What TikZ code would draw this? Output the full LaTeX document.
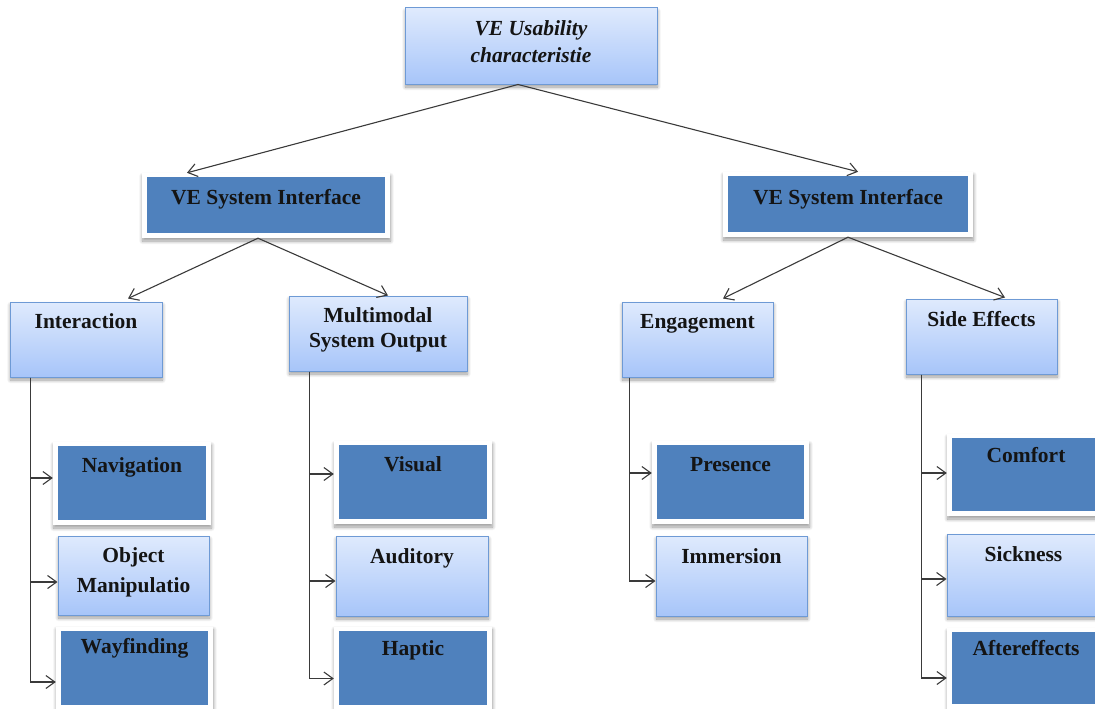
\documentclass[tikz,border=0pt]{standalone}
\usepackage{fontspec}
\setmainfont{Liberation Serif}
\usetikzlibrary{arrows.meta,shadows.blur}

\definecolor{boxblue}{HTML}{4F81BD}
\definecolor{paletop}{HTML}{DFEAFD}
\definecolor{palebot}{HTML}{A7C5F9}
\definecolor{paleedge}{HTML}{6E9AD5}
\definecolor{linkgray}{HTML}{3A3A3A}

\tikzset{
  boxshadow/.style={blur shadow={shadow xshift=0.5pt, shadow yshift=-3pt,
      shadow blur radius=3.5pt, shadow blur steps=10, shadow opacity=40}},
  % blue panel inside a white frame
  darkbox/.style={boxshadow, fill=white, draw=none, inner sep=0pt,
      minimum width=158pt, minimum height=83pt,
      path picture={\fill[boxblue]
        ([shift={(5pt,-4pt)}]path picture bounding box.north west) rectangle
        ([shift={(-5pt,5pt)}]path picture bounding box.south east);}},
  % pale gradient panel
  palebox/.style={boxshadow, top color=paletop, bottom color=palebot,
      draw=paleedge, line width=1pt, inner sep=0pt,
      minimum width=151pt, minimum height=79pt},
  caption/.style={font=\fontsize{21.5}{26}\selectfont\bfseries, text=black!92,
      anchor=base, inner sep=0pt},
  captionit/.style={caption, font=\fontsize{21.5}{26}\selectfont\bfseries\itshape},
  link/.style={draw=linkgray, line width=1.1pt,
      -{Straight Barb[length=9pt,width=13pt]}},
}

\begin{document}
\begin{tikzpicture}[x=1pt, y=-1pt]
\useasboundingbox (0,0) rectangle (1095,709);
\clip (0,0) rectangle (1095,709);

% root
\node[palebox, minimum width=252pt, minimum height=76pt,
  label={[captionit, label distance=-28pt]north:VE Usability},
  label={[captionit, label distance=-55pt]north:characteristie}] (root) at (531,46) {};

% second level
\node[darkbox, minimum width=248pt, minimum height=65pt,
  label={[caption, label distance=-31.5pt]north:VE System Interface}] (sysL) at (266,205.5) {};
\node[darkbox, minimum width=250pt, minimum height=65pt,
  label={[caption, label distance=-32.5pt]north:VE System Interface}] (sysR) at (848,204.5) {};

% third level
\node[palebox, minimum width=152pt, minimum height=75pt,
  label={[caption, label distance=-27pt]north:Interaction}] (inter) at (86,339.5) {};
\node[palebox, minimum width=178pt, minimum height=75pt,
  label={[caption, label distance=-27pt]north:Multimodal},
  label={[caption, label distance=-52pt]north:System Output}] (multi) at (378,333.5) {};
\node[palebox, minimum width=151pt, minimum height=75pt,
  label={[caption, label distance=-27pt]north:Engagement}] (engage) at (697.5,339.5) {};
\node[palebox, minimum width=151pt, minimum height=75pt,
  label={[caption, label distance=-28pt]north:Side Effects}] (side) at (981.5,336.5) {};

% leaves: interaction
\node[darkbox, label={[caption, label distance=-30.5pt]north:Navigation}] (nav) at (132,483.5) {};
\node[palebox,
  label={[caption, label distance=-27pt]north:Object},
  label={[caption, label distance=-57pt]north:Manipulatio}] (obj) at (133.5,575.5) {};
\node[darkbox, minimum width=157pt,
  label={[caption, label distance=-27.5pt]north:Wayfinding}] (way) at (134.5,668) {};

% leaves: multimodal output
\node[darkbox, label={[caption, label distance=-31pt]north:Visual}] (visual) at (413,482.5) {};
\node[palebox, minimum width=152pt, minimum height=80pt,
  label={[caption, label distance=-28pt]north:Auditory}] (aud) at (412,576) {};
\node[darkbox, label={[caption, label distance=-29pt]north:Haptic}] (hap) at (413,668) {};

% leaves: engagement
\node[darkbox, minimum width=157pt,
  label={[caption, label distance=-31pt]north:Presence}] (pres) at (730.5,482.5) {};
\node[palebox, minimum height=80pt,
  label={[caption, label distance=-28pt]north:Immersion}] (imm) at (731.5,576) {};

% leaves: side effects
\node[darkbox, minimum height=82pt,
  label={[caption, label distance=-29pt]north:Comfort}] (comf) at (1026,475) {};
\node[palebox, minimum width=153pt, minimum height=82pt,
  label={[caption, label distance=-28pt]north:Sickness}] (sick) at (1023.5,575) {};
\node[darkbox, minimum height=81pt,
  label={[caption, label distance=-28pt]north:Aftereffects}] (after) at (1026,668.5) {};

% tree connectors
\draw[link] ([xshift=-13pt]root.south) -- ([xshift=-79pt]sysL.north);
\draw[link] ([xshift=-13pt]root.south) -- ([xshift=10pt]sysR.north);
\draw[link] ([xshift=-8pt]sysL.south) -- ([xshift=42pt,yshift=3pt]inter.north);
\draw[link] ([xshift=-8pt]sysL.south) -- ([xshift=10pt]multi.north);
\draw[link] (sysR.south) -- ([xshift=25.5pt,yshift=3pt]engage.north);
\draw[link] (sysR.south) -- ([xshift=23.5pt,yshift=1pt]side.north);

% bracket connectors to the leaves
\draw[link] ([xshift=21pt]inter.south west) |- ([yshift=5.5pt]nav.west);
\draw[link] ([xshift=21pt]inter.south west) |- ([yshift=-6.5pt]obj.west);
\draw[link] ([xshift=21pt]inter.south west) |- ([yshift=-14pt]way.west);

\draw[link] ([xshift=21pt]multi.south west) |- ([yshift=8.5pt]visual.west);
\draw[link] ([xshift=21pt]multi.south west) |- ([yshift=-5pt]aud.west);
\draw[link] ([xshift=21pt]multi.south west) |- ([yshift=-10.5pt]hap.west);

\draw[link] ([xshift=8pt]engage.south west) |- ([yshift=9.5pt]pres.west);
\draw[link] ([xshift=8pt]engage.south west) |- ([yshift=-5pt]imm.west);

\draw[link] ([xshift=16pt]side.south west) |- ([yshift=2pt]comf.west);
\draw[link] ([xshift=16pt]side.south west) |- ([yshift=-4pt]sick.west);
\draw[link] ([xshift=16pt]side.south west) |- ([yshift=-9.5pt]after.west);
\end{tikzpicture}
\end{document}
